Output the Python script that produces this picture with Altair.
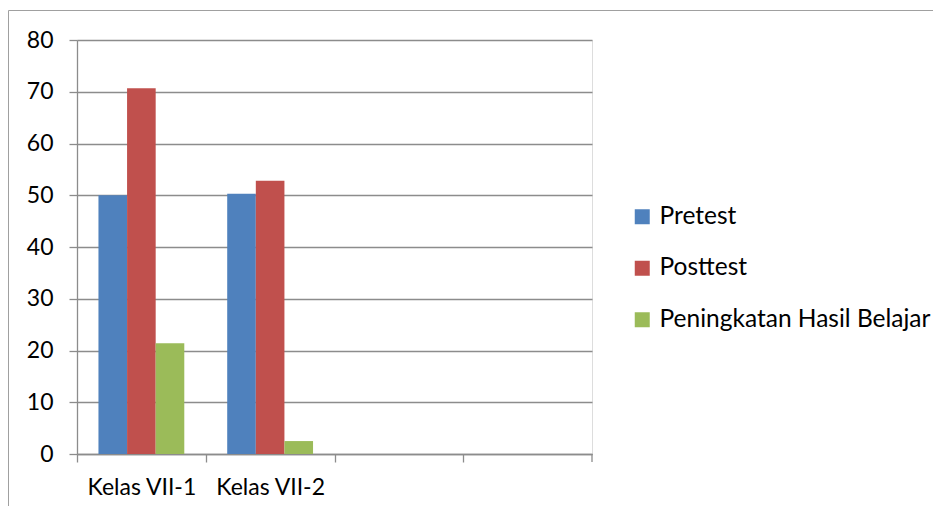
import altair as alt
import pandas as pd

categories = ["Kelas VII-1", "Kelas VII-2"]
axis_slots = ["Kelas VII-1", "Kelas VII-2", "_3", "_4"]
series = ["Pretest", "Posttest", "Peningkatan Hasil Belajar"]
pretest = [50.0, 50.3]
posttest = [70.7, 52.8]
peningkatan = [21.4, 2.5]
colors = ["#4F81BD", "#C0504D", "#9BBB59"]

rows = []
for i, c in enumerate(categories):
    for s, vals in zip(series, [pretest, posttest, peningkatan]):
        rows.append({"kelas": c, "seri": s, "nilai": vals[i]})
df = pd.DataFrame(rows)

W, H = 515, 414
FONT = "Lato"
GREY = "#8c8c8c"

bars = alt.Chart(df).mark_bar().encode(
    x=alt.X("kelas:N", scale=alt.Scale(domain=axis_slots, paddingInner=0, paddingOuter=0),
            sort=axis_slots,
            axis=alt.Axis(title=None, labelAngle=0, labelExpr="indexof(datum.label, '_') == 0 ? '' : datum.label",
                          tickOffset=-W / 8, labelOffset=W / 8, tickSize=8, tickColor=GREY,
                          tickWidth=1.3, domainColor=GREY, domainWidth=1.3, labelPadding=14,
                          labelFontSize=23, labelFont=FONT, labelColor="#000000", grid=False)),
    xOffset=alt.XOffset("seri:N", sort=series,
                        scale=alt.Scale(domain=series, paddingInner=0, paddingOuter=0.75)),
    y=alt.Y("nilai:Q", scale=alt.Scale(domain=[0, 80], nice=False),
            axis=alt.Axis(title=None, values=list(range(0, 81, 10)), tickSize=8, tickColor=GREY,
                          tickWidth=1.3, domainColor=GREY, domainWidth=1.3, gridColor=GREY,
                          gridWidth=1.3, grid=True, labelPadding=16, labelFontSize=23,
                          labelFont=FONT, labelColor="#000000")),
    color=alt.Color("seri:N", sort=series, scale=alt.Scale(domain=series, range=colors),
                    legend=alt.Legend(title=None, orient="none", legendX=553, legendY=164.5,
                                      symbolType="square", symbolSize=225, symbolStrokeWidth=0,
                                      labelFontSize=24.5, labelFont=FONT, labelColor="#000000",
                                      labelLimit=400, rowPadding=26.5, labelOffset=5)),
)

end_tick = alt.Chart(pd.DataFrame({"a": [0]})).mark_rule(color=GREY, strokeWidth=1.3).encode(
    x=alt.value(W), y=alt.value(H), y2=alt.value(H + 8))

frame = alt.Chart(pd.DataFrame({"a": [0]})).mark_rect(
    fill="transparent", stroke="#a0a0a0", strokeWidth=1).encode(
    x=alt.value(-68.5), x2=alt.value(W + 400), y=alt.value(-29.5), y2=alt.value(H + 200))

chart = alt.layer(frame, bars, end_tick).properties(
    width=W, height=H,
    autosize=alt.AutoSizeParams(type="none"),
    padding={"left": 69, "top": 32, "right": 925 - 69 - W, "bottom": 498 - 32 - H},
).configure_view(stroke=None).configure(background="white")

chart.save("out.html", embed_options={"renderer": "svg", "actions": False})
